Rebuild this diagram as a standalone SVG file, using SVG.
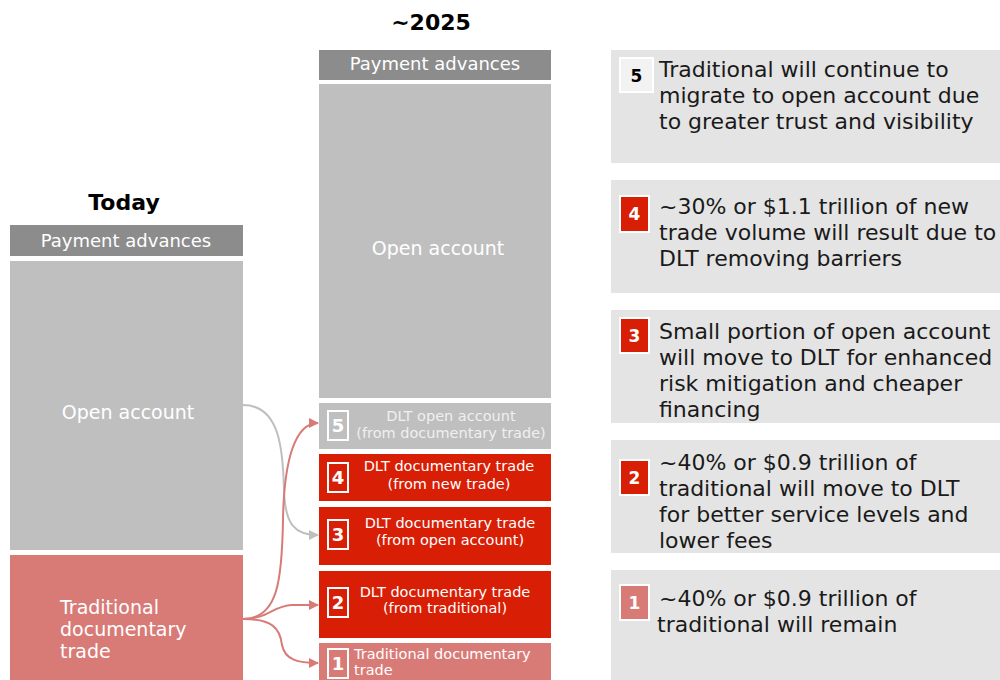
<svg xmlns="http://www.w3.org/2000/svg" width="1000" height="680" viewBox="0 0 1000 680">
<defs>
<style>
text{font-family:"DejaVu Sans",Verdana,sans-serif}
.title{font-size:22px;font-weight:bold;fill:#000;text-anchor:middle}
.hdr{fill:#8c8c8c}
.grey{fill:#bfbfbf}
.red{fill:#d81e05}
.pink{fill:#d87b77}
.panel{fill:#e4e4e4}
.wt{fill:#fff;font-size:18px;text-anchor:middle}
.big{fill:#fff;font-size:19px}
.sm{fill:#fff;font-size:14.5px;text-anchor:middle}
.sml{fill:#fff;font-size:14.5px;text-anchor:start}
.smg{fill:#f0f0f0;font-size:14.5px;text-anchor:middle}
.bd{fill:none;stroke:#fff;stroke-width:2}
.bn{fill:#fff;font-size:18px;font-weight:bold;text-anchor:middle}
.pt{fill:#1a1a1a;font-size:22px}
.pb{stroke:#fff;stroke-width:2}
.pn{fill:#fff;font-size:17px;font-weight:bold;text-anchor:middle}
.pk{fill:#000;font-size:17px;font-weight:bold;text-anchor:middle}
.cg{fill:none;stroke:#bfbfbf;stroke-width:2}
.cr{fill:none;stroke:#d87b77;stroke-width:2}
</style>
<marker id="ag" viewBox="0 0 10 10" refX="9" refY="5" markerWidth="10" markerHeight="10" markerUnits="userSpaceOnUse" orient="auto"><path d="M0,0 L10,5 L0,10 Z" fill="#bfbfbf"/></marker>
<marker id="ar" viewBox="0 0 10 10" refX="9" refY="5" markerWidth="10" markerHeight="10" markerUnits="userSpaceOnUse" orient="auto"><path d="M0,0 L10,5 L0,10 Z" fill="#d87b77"/></marker>
</defs>
<rect width="1000" height="680" fill="#fff"/>
<text class="title" x="431" y="30">~2025</text>
<text class="title" x="124" y="210">Today</text>

<g id="today-payment">
<rect class="hdr" x="10" y="225" width="233" height="31"/>
<text class="wt" x="126" y="247">Payment advances</text>
</g>
<g id="today-open">
<rect class="grey" x="10" y="261" width="233" height="289"/>
<text class="big" x="128" y="419" text-anchor="middle">Open account</text>
</g>
<g id="today-trad">
<rect class="pink" x="10" y="555" width="233" height="125"/>
<text class="big" x="60" y="614">Traditional</text>
<text class="big" x="60" y="636">documentary</text>
<text class="big" x="60" y="658">trade</text>
</g>

<g id="f-payment">
<rect class="hdr" x="319" y="50" width="232" height="30"/>
<text class="wt" x="435" y="70">Payment advances</text>
</g>
<g id="f-open">
<rect class="grey" x="319" y="84" width="232" height="314"/>
<text class="big" x="438" y="255" text-anchor="middle">Open account</text>
</g>
<g id="f-5">
<rect class="grey" x="319" y="403" width="232" height="46"/>
<rect class="bd" x="328" y="411" width="20" height="29"/>
<text class="bn" x="338" y="432">5</text>
<text class="smg" x="451" y="421">DLT open account</text>
<text class="smg" x="451" y="438">(from documentary trade)</text>
</g>
<g id="f-4">
<rect class="red" x="319" y="454" width="232" height="47"/>
<rect class="bd" x="328" y="463" width="20" height="29"/>
<text class="bn" x="338" y="484">4</text>
<text class="sm" x="449" y="471">DLT documentary trade</text>
<text class="sm" x="449" y="489">(from new trade)</text>
</g>
<g id="f-3">
<rect class="red" x="319" y="507" width="232" height="58"/>
<rect class="bd" x="328" y="520" width="20" height="29"/>
<text class="bn" x="338" y="541">3</text>
<text class="sm" x="450" y="528">DLT documentary trade</text>
<text class="sm" x="450" y="545">(from open account)</text>
</g>
<g id="f-2">
<rect class="red" x="319" y="571" width="232" height="67"/>
<rect class="bd" x="328" y="588" width="20" height="29"/>
<text class="bn" x="338" y="609">2</text>
<text class="sm" x="445" y="597">DLT documentary trade</text>
<text class="sm" x="445" y="613">(from traditional)</text>
</g>
<g id="f-1">
<rect class="pink" x="319" y="643" width="232" height="37"/>
<rect class="bd" x="328" y="649" width="20" height="29"/>
<text class="bn" x="338" y="670">1</text>
<text class="sml" x="354" y="659">Traditional documentary</text>
<text class="sml" x="354" y="675">trade</text>
</g>

<g id="connectors">
<path class="cg" marker-end="url(#ag)" d="M243,405 C280,405 283,450 284,490 C285,525 295,535 318,535"/>
<path class="cr" marker-end="url(#ar)" d="M243,619 C278,619 282,580 283,520 C284,460 295,423 318,423"/>
<path class="cr" marker-end="url(#ar)" d="M243,619 C268,619 272,606 292,605 L318,605"/>
<path class="cr" marker-end="url(#ar)" d="M243,619 C272,619 280,628 282,645 C285,660 298,663 318,663"/>
</g>

<g id="note-5">
<rect class="panel" x="611" y="50" width="389" height="113"/>
<rect class="pb" x="620" y="58" width="33" height="34" fill="#f2f2f2"/>
<text class="pk" x="636.5" y="82">5</text>
<text class="pt" x="659" y="77">Traditional will continue to</text>
<text class="pt" x="659" y="103">migrate to open account due</text>
<text class="pt" x="659" y="129">to greater trust and visibility</text>
</g>
<g id="note-4">
<rect class="panel" x="611" y="180" width="389" height="113"/>
<rect class="pb" x="620" y="196" width="29" height="36" fill="#d81e05"/>
<text class="pn" x="634.5" y="220">4</text>
<text class="pt" x="659" y="214">~30% or $1.1 trillion of new</text>
<text class="pt" x="659" y="240">trade volume will result due to</text>
<text class="pt" x="659" y="266">DLT removing barriers</text>
</g>
<g id="note-3">
<rect class="panel" x="611" y="310" width="389" height="113"/>
<rect class="pb" x="620" y="318" width="29" height="35" fill="#d81e05"/>
<text class="pn" x="634.5" y="342">3</text>
<text class="pt" x="659" y="339">Small portion of open account</text>
<text class="pt" x="659" y="365">will move to DLT for enhanced</text>
<text class="pt" x="659" y="391">risk mitigation and cheaper</text>
<text class="pt" x="659" y="417">financing</text>
</g>
<g id="note-2">
<rect class="panel" x="611" y="440" width="389" height="113"/>
<rect class="pb" x="620" y="460" width="29" height="35" fill="#d81e05"/>
<text class="pn" x="634.5" y="484">2</text>
<text class="pt" x="659" y="470">~40% or $0.9 trillion of</text>
<text class="pt" x="659" y="496">traditional will move to DLT</text>
<text class="pt" x="659" y="522">for better service levels and</text>
<text class="pt" x="659" y="548">lower fees</text>
</g>
<g id="note-1">
<rect class="panel" x="611" y="570" width="389" height="110"/>
<rect class="pb" x="620" y="585" width="29" height="35" fill="#d87b77"/>
<text class="pn" x="634.5" y="609">1</text>
<text class="pt" x="659" y="606">~40% or $0.9 trillion of</text>
<text class="pt" x="657" y="632">traditional will remain</text>
</g>
</svg>
